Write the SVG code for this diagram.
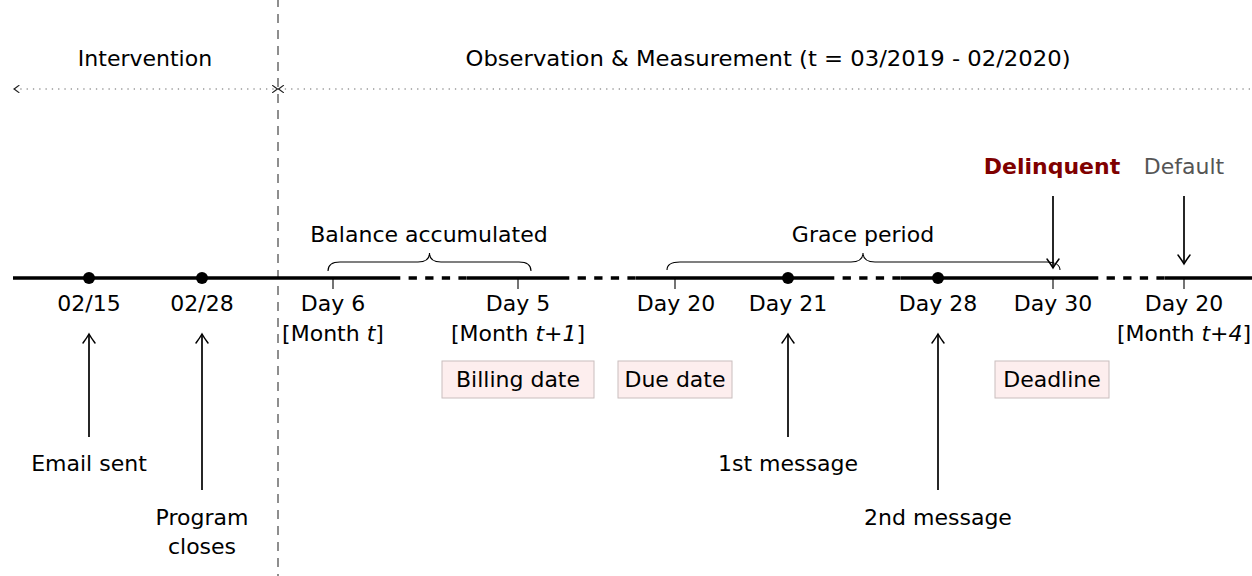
<svg xmlns="http://www.w3.org/2000/svg" width="1252" height="576" viewBox="0 0 1252 576">
  <defs>
    <marker id="tip" viewBox="-11 -8 13 16" refX="0" refY="0" markerWidth="13" markerHeight="16" markerUnits="userSpaceOnUse" orient="auto-start-reverse">
      <path d="M-9,-6 C-5.5,-3.4 -2,-1.1 0,0 C-2,1.1 -5.5,3.4 -9,6" fill="none" stroke="#000" stroke-width="1.5" stroke-linecap="round"/>
    </marker>
    <marker id="tipSmall" viewBox="-6 -4 8 8" refX="0" refY="0" markerWidth="8" markerHeight="8" markerUnits="userSpaceOnUse" orient="auto-start-reverse">
      <path d="M-5,-3.6 C-3,-2 -1,-0.7 0,0 C-1,0.7 -3,2 -5,3.6" fill="none" stroke="#222" stroke-width="1.1" stroke-linecap="round"/>
    </marker>
    <marker id="tipBold" viewBox="-10 -7 12 14" refX="0" refY="0" markerWidth="12" markerHeight="14" markerUnits="userSpaceOnUse" orient="auto">
      <path d="M-3,-2.5 C-1.5,-1.2 -0.6,-0.4 0,0 C-0.6,0.4 -1.5,1.2 -3,2.5" fill="none" stroke="#000" stroke-width="1" stroke-linecap="round"/>
    </marker>
  </defs>
  <style>
    text { font-family: "DejaVu Sans", "Liberation Sans", sans-serif; font-size: 22px; fill: #000; text-anchor: middle; }
    .it { font-style: italic; }
    .axis { stroke: #000; stroke-width: 3.6; fill: none; }
    .axis-dash { stroke: #000; stroke-width: 3.6; fill: none; stroke-dasharray: 8.3 8.3; }
    .tick { stroke: #000; stroke-width: 1.1; }
    .event { fill: #000; }
    .pointer { stroke: #000; stroke-width: 1.7; fill: none; marker-end: url(#tip); }
    .brace { stroke: #000; stroke-width: 1.1; fill: none; }
    .tag { fill: #fdeeee; stroke: #c9bebe; stroke-width: 1; }
    .phase-rule { stroke: #444; stroke-width: 1.2; stroke-dasharray: 9 7; }
    .span { stroke: #666; stroke-width: 1.1; stroke-dasharray: 1.3 5; fill: none; }
    .delinquent { fill: #7f0000; font-weight: bold; }
    .default { fill: #555; }
  </style>

  <!-- phase divider and phase span -->
  <g id="connectors">
    <line class="phase-rule" x1="278" y1="-2" x2="278" y2="576"/>
    <line class="span" x1="14" y1="89" x2="277.5" y2="89" marker-start="url(#tipSmall)" marker-end="url(#tipSmall)"/>
    <line class="span" x1="278.5" y1="89" x2="1260" y2="89" marker-start="url(#tipSmall)"/>

    <!-- timeline: solid stretches broken by dashed gaps -->
    <line class="axis" x1="13" y1="278" x2="392" y2="278"/>
    <line class="axis-dash" x1="392" y1="278" x2="468" y2="278"/>
    <line class="axis" x1="467" y1="278" x2="561" y2="278"/>
    <line class="axis-dash" x1="561" y1="278" x2="637" y2="278"/>
    <line class="axis" x1="636" y1="278" x2="826" y2="278"/>
    <line class="axis-dash" x1="826" y1="278" x2="902" y2="278"/>
    <line class="axis" x1="901" y1="278" x2="1090" y2="278"/>
    <line class="axis-dash" x1="1090" y1="278" x2="1166" y2="278"/>
    <line class="axis" x1="1165" y1="278" x2="1258" y2="278" marker-end="url(#tipBold)"/>

    <!-- ticks -->
    <line class="tick" x1="333" y1="279" x2="333" y2="289"/>
    <line class="tick" x1="518" y1="279" x2="518" y2="289"/>
    <line class="tick" x1="675" y1="279" x2="675" y2="289"/>
    <line class="tick" x1="1053" y1="279" x2="1053" y2="289"/>
    <line class="tick" x1="1184" y1="279" x2="1184" y2="289"/>

    <!-- braces -->
    <path class="brace" d="M328,271 C328,265 332,262 340,262 L418,262 C425,262 429.5,259 429.5,253 C429.5,259 434,262 441,262 L519,262 C527,262 531,265 531,271"/>
    <path class="brace" d="M667,270 C667,265 671,262 680,262 L851,262 C858,262 863,259 863,253 C863,259 868,262 875,262 L1047,262 C1055,262 1060,265 1060,270"/>

    <!-- pointers -->
    <line class="pointer" x1="89" y1="437" x2="89" y2="334"/>
    <line class="pointer" x1="202" y1="490" x2="202" y2="334"/>
    <line class="pointer" x1="788" y1="437" x2="788" y2="334"/>
    <line class="pointer" x1="938" y1="490" x2="938" y2="334"/>
    <line class="pointer" x1="1053" y1="196" x2="1053" y2="268"/>
    <line class="pointer" x1="1184" y1="196" x2="1184" y2="264"/>
  </g>

  <!-- phase headings -->
  <g id="phase-intervention"><text x="145" y="66">Intervention</text></g>
  <g id="phase-observation"><text x="768" y="66" textLength="605" lengthAdjust="spacingAndGlyphs">Observation &amp; Measurement (t = 03/2019 - 02/2020)</text></g>

  <!-- intervention events -->
  <g id="email-sent">
    <circle class="event" cx="89" cy="278" r="6"/>
    <text x="89" y="311">02/15</text>
    <text x="89" y="471">Email sent</text>
  </g>
  <g id="program-closes">
    <circle class="event" cx="202" cy="278" r="6"/>
    <text x="202" y="311">02/28</text>
    <text x="202" y="525">Program</text>
    <text x="202" y="554">closes</text>
  </g>

  <!-- billing cycle -->
  <g id="day-6">
    <text x="333" y="311">Day 6</text>
    <text x="333" y="341">[Month <tspan class="it">t</tspan>]</text>
  </g>
  <g id="day-5">
    <text x="518" y="311">Day 5</text>
    <text x="518" y="341">[Month <tspan class="it">t+1</tspan>]</text>
    <rect class="tag" x="442" y="361" width="152" height="37"/>
    <text x="518" y="387">Billing date</text>
  </g>
  <g id="balance-accumulated"><text x="429" y="242">Balance accumulated</text></g>
  <g id="day-20">
    <text x="676" y="311">Day 20</text>
    <rect class="tag" x="618" y="361" width="114" height="37"/>
    <text x="675" y="387">Due date</text>
  </g>
  <g id="grace-period"><text x="863" y="242">Grace period</text></g>
  <g id="day-21">
    <circle class="event" cx="788" cy="278" r="6"/>
    <text x="788" y="311">Day 21</text>
    <text x="788" y="471">1st message</text>
  </g>
  <g id="day-28">
    <circle class="event" cx="938" cy="278" r="6"/>
    <text x="938" y="311">Day 28</text>
    <text x="938" y="525">2nd message</text>
  </g>
  <g id="day-30">
    <text x="1053" y="311">Day 30</text>
    <rect class="tag" x="995" y="361" width="114" height="37"/>
    <text x="1052" y="387">Deadline</text>
    <text class="delinquent" x="1052" y="174">Delinquent</text>
  </g>
  <g id="default-day">
    <text x="1184" y="311">Day 20</text>
    <text x="1184" y="341">[Month <tspan class="it">t+4</tspan>]</text>
    <text class="default" x="1184" y="174">Default</text>
  </g>
</svg>
